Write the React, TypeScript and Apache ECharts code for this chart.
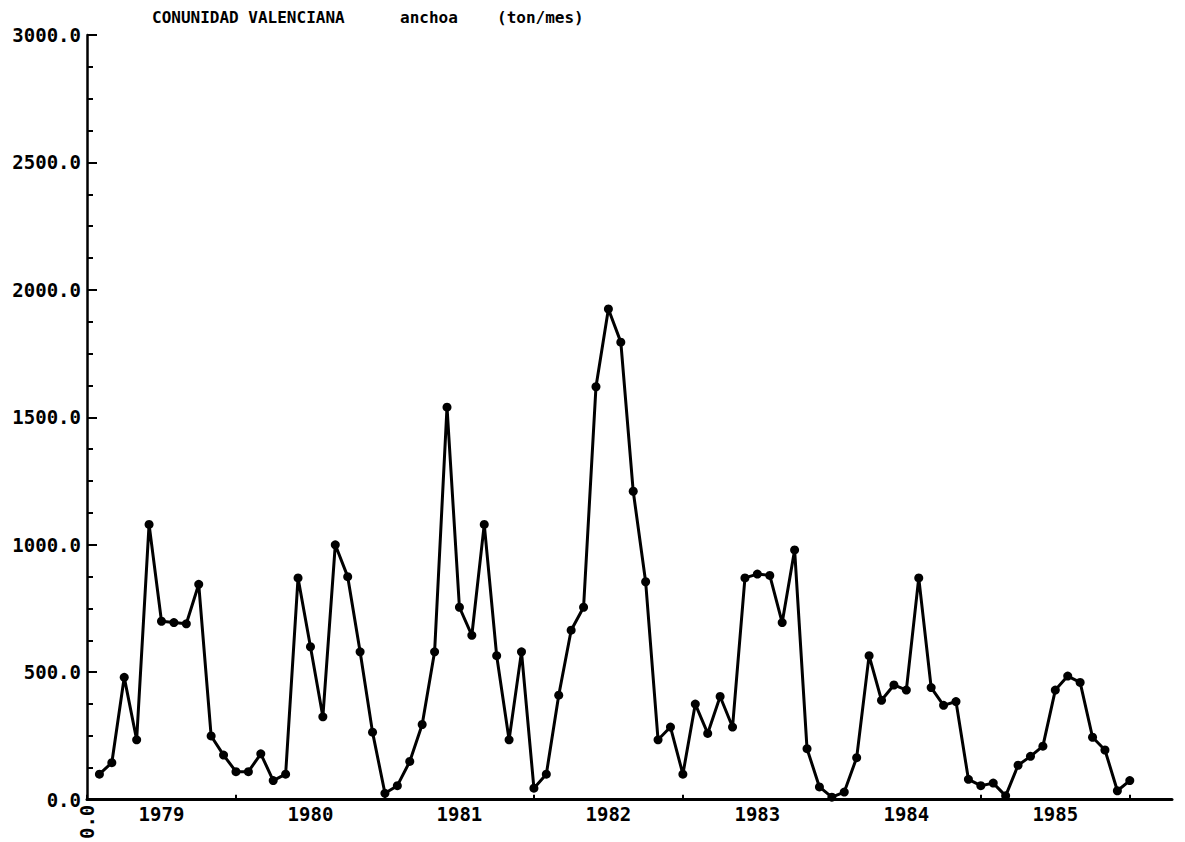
import React, { useEffect, useRef } from "react";
import * as echarts from "echarts";

const years = ["1979", "1980", "1981", "1982", "1983", "1984", "1985"];
const months = Array.from({ length: 84 }, (_, i) => i + 1);
const catch1979 = [100, 145, 480, 235, 1080, 700, 695, 690, 845, 250, 175, 110];
const catch1980 = [110, 180, 75, 100, 870, 600, 325, 1000, 875, 580, 265, 25];
const catch1981 = [55, 150, 295, 580, 1540, 755, 645, 1080, 565, 235, 580, 45];
const catch1982 = [100, 410, 665, 755, 1620, 1925, 1795, 1210, 855, 235, 285, 100];
const catch1983 = [375, 260, 405, 285, 870, 885, 880, 695, 980, 200, 50, 10];
const catch1984 = [30, 165, 565, 390, 450, 430, 870, 440, 370, 385, 80, 55];
const catch1985 = [65, 15, 135, 170, 210, 430, 485, 460, 245, 195, 35, 75];
const values = [...catch1979, ...catch1980, ...catch1981, ...catch1982, ...catch1983, ...catch1984, ...catch1985];
const titleParts = ["CONUNIDAD VALENCIANA", "anchoa", "(ton/mes)"];

const FONT = "'DejaVu Sans Mono', monospace";

export default function App() {
  const ref = useRef<HTMLDivElement>(null);
  useEffect(() => {
    if (!ref.current) return;
    const chart = echarts.init(ref.current, null, { renderer: "svg" });
    const labelStyle = { color: "#000", fontFamily: FONT, fontWeight: "bold" as const, fontSize: 19 };
    const titleFont = `bold 16px ${FONT}`;
    chart.setOption({
      animation: false,
      backgroundColor: "#fff",
      grid: { left: 87, right: 13, top: 35, bottom: 42, containLabel: false },
      graphic: [
        { type: "text", left: 152, top: 9, style: { text: titleParts[0], font: titleFont, fill: "#000" } },
        { type: "text", left: 400, top: 9, style: { text: titleParts[1], font: titleFont, fill: "#000" } },
        { type: "text", left: 497, top: 9, style: { text: titleParts[2], font: titleFont, fill: "#000" } },
      ],
      xAxis: [
        {
          type: "value",
          min: 0,
          max: 87.4,
          interval: 12,
          position: "bottom",
          axisLine: { show: true, lineStyle: { color: "#000", width: 3 } },
          axisTick: { show: true, inside: true, length: 5, lineStyle: { color: "#000", width: 2 } },
          splitLine: { show: false },
          axisLabel: {
            ...labelStyle,
            rotate: 90,
            margin: 5,
            showMaxLabel: false,
            formatter: (v: number) => (v === 0 ? "0.0" : ""),
          },
        },
        {
          type: "value",
          min: 0,
          max: 87.4,
          interval: 6,
          position: "bottom",
          axisLine: { show: false },
          axisTick: { show: false },
          splitLine: { show: false },
          axisLabel: {
            ...labelStyle,
            margin: 5,
            showMaxLabel: false,
            formatter: (v: number) => {
              const k = (v - 6) / 12;
              return Number.isInteger(k) && k >= 0 && k < years.length ? years[k] : "";
            },
          },
        },
      ],
      yAxis: {
        type: "value",
        min: 0,
        max: 3000,
        interval: 500,
        axisLine: { show: true, lineStyle: { color: "#000", width: 2.5 } },
        axisTick: { show: true, inside: true, length: 10, lineStyle: { color: "#000", width: 2 } },
        minorTick: { show: true, splitNumber: 4, length: 6, lineStyle: { color: "#000", width: 2 } },
        splitLine: { show: false },
        axisLabel: { ...labelStyle, margin: 6, formatter: (v: number) => v.toFixed(1) },
      },
      series: [
        {
          type: "line",
          xAxisIndex: 0,
          data: months.map((m, i) => [m, values[i]]),
          symbol: "circle",
          symbolSize: 9,
          showAllSymbol: true,
          lineStyle: { color: "#000", width: 3 },
          itemStyle: { color: "#000" },
        },
      ],
    });
    return () => chart.dispose();
  }, []);
  return <div ref={ref} style={{ position: "fixed", left: 0, top: 0, width: 1185, height: 842, background: "#fff" }} />;
}
